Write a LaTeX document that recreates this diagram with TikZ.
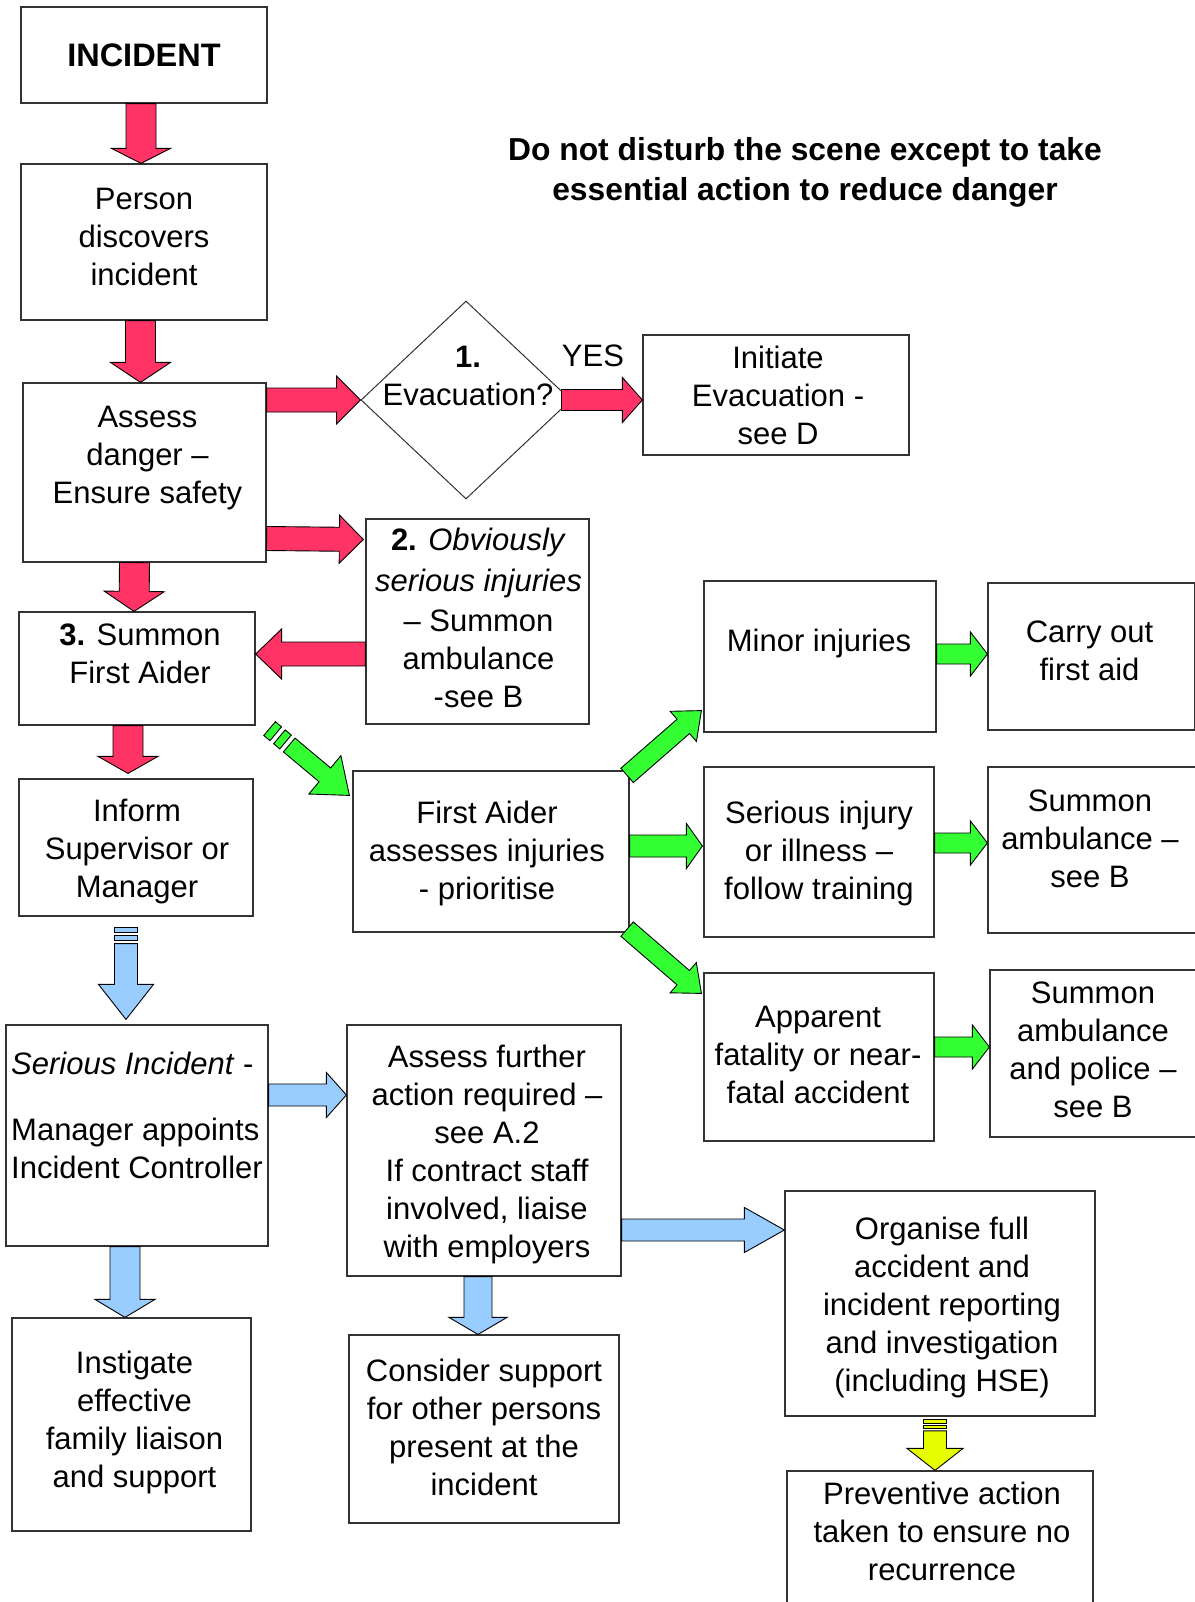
\documentclass[tikz,border=0pt]{standalone}
\usepackage{fontspec}
\setmainfont{Liberation Sans}
\usetikzlibrary{calc,shapes.geometric}

\definecolor{arrred}{HTML}{FF3366}
\definecolor{arrgreen}{HTML}{33FF33}
\definecolor{arrblue}{HTML}{99CCFF}
\definecolor{arryellow}{HTML}{E6FF00}

\tikzset{
  box/.style={draw=black!80, line width=1.2pt, inner sep=0pt},
  txt/.style={align=center, inner sep=0pt, font=\fontsize{31}{38}\selectfont},
  arrowline/.style={draw=black, line width=0.9pt, line join=miter},
  redarr/.style={arrowline, fill=arrred},
  greenarr/.style={arrowline, fill=arrgreen},
  bluearr/.style={arrowline, fill=arrblue},
  yellowarr/.style={arrowline, fill=arryellow}
}

% block arrow: [style]{tail}{tip}{shaft half width}{head half width}{head length}
\newcommand{\blockarrow}[6][redarr]{%
  \coordinate (bt) at #2;
  \coordinate (be) at #3;
  \coordinate (bh) at ($(be)!#6pt!(bt)$);
  \filldraw[#1] ($(bt)!#4pt!90:(be)$) -- ($(bh)!#4pt!90:(be)$) -- ($(bh)!#5pt!90:(be)$)
    -- (be) -- ($(bh)!#5pt!-90:(be)$) -- ($(bh)!#4pt!-90:(be)$) -- ($(bt)!#4pt!-90:(be)$) -- cycle;
}
% same, with two bars at the tail: last argument is the bar thickness
\newcommand{\stripedarrow}[7][bluearr]{%
  \coordinate (st) at #2;
  \coordinate (se) at #3;
  \pgfmathsetmacro\barb{1.6*#7}
  \pgfmathsetmacro\barc{2.6*#7}
  \pgfmathsetmacro\bard{3.2*#7}
  \coordinate (sa) at ($(st)!#7pt!(se)$);
  \coordinate (sb) at ($(st)!\barb pt!(se)$);
  \coordinate (sc) at ($(st)!\barc pt!(se)$);
  \coordinate (sd) at ($(st)!\bard pt!(se)$);
  \filldraw[#1] ($(st)!#4pt!90:(se)$) -- ($(sa)!#4pt!90:(se)$) -- ($(sa)!#4pt!-90:(se)$) -- ($(st)!#4pt!-90:(se)$) -- cycle;
  \filldraw[#1] ($(sb)!#4pt!90:(se)$) -- ($(sc)!#4pt!90:(se)$) -- ($(sc)!#4pt!-90:(se)$) -- ($(sb)!#4pt!-90:(se)$) -- cycle;
  \blockarrow[#1]{(sd)}{(se)}{#4}{#5}{#6}
}

\begin{document}
\begin{tikzpicture}[x=1pt, y=-1pt]
\useasboundingbox (0,0) rectangle (1194,1602);

% Header
\node[txt, font=\fontsize{31.8}{40}\selectfont\bfseries] (header) at (805,172)
  {Do not disturb the scene except to take\\essential action to reduce danger};

% Left column
\node[box, minimum width=246pt, minimum height=96pt] (incident) at (144,55) {};
\node[txt, font=\fontsize{32.5}{38}\selectfont\bfseries] (incidenttext) at (incident) {INCIDENT};
\node[box, minimum width=246pt, minimum height=156pt] (person) at (144,242) {};
\node[txt] (persontext) at ($(person)+(0,-5)$) {Person\\discovers\\incident};
\node[box, minimum width=243pt, minimum height=179pt] (assess) at (144.5,472.5) {};
\node[txt] (assesstext) at ($(assess)+(3,-14)$) {Assess\\danger --\\Ensure safety};
\node[box, minimum width=236pt, minimum height=113pt] (firstaider) at (137,668.5) {};
\node[txt] (firstaidertext) at ($(firstaider)+(3,-15)$) {\textbf{3.} Summon\\First Aider};
\node[box, minimum width=234pt, minimum height=137pt] (inform) at (136,847.5) {};
\node[txt] (informtext) at ($(inform)+(1,4)$) {Inform\\Supervisor or\\Manager};
\node[box, minimum width=262pt, minimum height=221pt] (serinc) at (137,1135.5) {};
\node[txt, anchor=north west, align=left] (serinctext) at (11,1052)
  {\textit{Serious Incident} -\\[28pt]Manager appoints\\Incident Controller};
\node[box, minimum width=239pt, minimum height=213pt] (instigate) at (131.5,1424.5) {};
\node[txt] (instigatetext) at ($(instigate)+(3,-2)$) {Instigate\\effective\\family liaison\\and support};

% Evacuation decision
\node[draw=black!80, line width=1pt, diamond, minimum width=210pt, minimum height=198pt, inner sep=0pt] (evac) at (466,400) {};
\node[txt] (evactext) at (468,376) {\textbf{1.}\\Evacuation?};
\node[txt] (yes) at (593,356) {YES};
\node[box, minimum width=266pt, minimum height=120pt] (initiate) at (776,395) {};
\node[txt] (initiatetext) at ($(initiate)+(2,0)$) {Initiate\\Evacuation -\\see D};

% Middle column
\node[box, minimum width=223pt, minimum height=205pt] (obvious) at (477.5,621.5) {};
\node[txt] (obvioustext) at ($(obvious)+(1,-4)$)
  {\textbf{2.} \textit{Obviously}\\[3pt]\textit{serious injuries}\\[2pt]-- Summon\\ambulance\\-see B};
\node[box, minimum width=276pt, minimum height=161pt] (assesses) at (491,851.5) {};
\node[txt] (assessestext) at ($(assesses)+(-4,2)$) {First Aider\\assesses injuries\\- prioritise};
\node[box, minimum width=274pt, minimum height=251pt] (further) at (484,1150.5) {};
\node[txt] (furthertext) at ($(further)+(3,4)$)
  {Assess further\\action required --\\see A.2\\If contract staff\\involved, liaise\\with employers};
\node[box, minimum width=270pt, minimum height=188pt] (consider) at (484,1429) {};
\node[txt] (considertext) at ($(consider)+(0,-2)$) {Consider support\\for other persons\\present at the\\incident};

% Injury types
\node[box, minimum width=232pt, minimum height=151pt] (minor) at (820,656.5) {};
\node[txt] (minortext) at ($(minor)+(-1,-13)$) {Minor injuries};
\node[box, minimum width=230pt, minimum height=170pt] (serious) at (819,852) {};
\node[txt] (serioustext) at ($(serious)+(0,1)$) {Serious injury\\or illness --\\follow training};
\node[box, minimum width=230pt, minimum height=168pt] (fatal) at (819,1057) {};
\node[txt] (fataltext) at ($(fatal)+(-1,-2)$) {Apparent\\fatality or near-\\fatal accident};
\node[box, minimum width=207pt, minimum height=147pt] (carry) at (1091.5,656.5) {};
\node[txt] (carrytext) at ($(carry)+(-2,-6)$) {Carry out\\first aid};
\node[box, minimum width=208pt, minimum height=166pt] (ambul) at (1092,850) {};
\node[txt] (ambultext) at ($(ambul)+(-2,-11)$) {Summon\\ambulance --\\see B};
\node[box, minimum width=206pt, minimum height=167pt] (police) at (1093,1053.5) {};
\node[txt] (policetext) at ($(police)+(0,-4)$) {Summon\\ambulance\\and police --\\see B};

% Reporting
\node[box, minimum width=310pt, minimum height=225pt] (organise) at (940,1303.5) {};
\node[txt] (organisetext) at ($(organise)+(2,4)$)
  {Organise full\\accident and\\incident reporting\\and investigation\\(including HSE)};
\node[box, minimum width=306pt, minimum height=140pt] (prevent) at (940,1541) {};
\node[txt] (preventtext) at (942,1531) {Preventive action\\taken to ensure no\\recurrence};

% Red arrows
\blockarrow[redarr]{($(incident.south)+(-3,0)$)}{($(person.north)+(-3,0)$)}{15}{29.5}{15}
\blockarrow[redarr]{($(person.south)+(-3.5,0)$)}{($(assess.north)+(-4,0)$)}{15}{30}{20}
\blockarrow[redarr]{(assess.east |- evac.west)}{(evac.west)}{12}{24}{24}
\blockarrow[redarr]{($(evac.east)+(-10,0)$)}{(evac.east -| initiate.west)}{10.5}{22.5}{20}
\blockarrow[redarr]{($(assess.east)+(0,66)$)}{($(obvious.west)+(-2,-82)$)}{12}{24}{24}
\blockarrow[redarr]{($(assess.south)+(-10,0)$)}{($(firstaider.north)+(-3,0)$)}{15}{30}{20}
\blockarrow[redarr]{($(obvious.west)+(0,32.5)$)}{($(firstaider.east)+(0,-14.5)$)}{12}{25}{26}
\blockarrow[redarr]{($(firstaider.south)+(-9,0)$)}{($(inform.north)+(-8,-5)$)}{15}{30}{17}

% Green arrows
\stripedarrow[greenarr]{($(firstaider.south east)+(14,3)$)}{($(assesses.north west)+(-3,25)$)}{9}{25}{32}{8}
\blockarrow[greenarr]{($(assesses.north east)+(-2.5,5)$)}{($(minor.south west)+(-2,-22)$)}{9.5}{20}{24}
\blockarrow[greenarr]{($(assesses.east)+(0,-5.5)$)}{($(serious.west)+(-1,-6)$)}{11}{22.5}{16}
\blockarrow[greenarr]{($(assesses.south east)+(-2.5,-3.5)$)}{($(fatal.north west)+(-2,21)$)}{9.5}{20}{24}
\blockarrow[greenarr]{($(minor.east)+(0,-2.5)$)}{($(carry.west)+(0,-2.5)$)}{10}{22}{17}
\blockarrow[greenarr]{($(serious.east)+(0,-9)$)}{($(ambul.west)+(0,-7)$)}{10}{22}{17}
\blockarrow[greenarr]{($(fatal.east)+(0,-10)$)}{($(police.west)+(0,-6.5)$)}{10}{22}{17}

% Blue arrows
\stripedarrow[bluearr]{($(inform.south)+(-10,11)$)}{($(serinc.north)+(-11,-5)$)}{11.5}{27.5}{35}{5}
\blockarrow[bluearr]{($(serinc.east)+(0,-40.5)$)}{($(further.west)+(0,-55.5)$)}{11}{22.5}{20}
\blockarrow[bluearr]{($(serinc.south)+(-12,0)$)}{($(instigate.north)+(-6.5,0)$)}{15}{30}{18}
\blockarrow[bluearr]{($(further.south)+(-6,0)$)}{($(consider.north)+(-6,0)$)}{14}{29}{17}
\blockarrow[bluearr]{($(further.east)+(0,79.5)$)}{($(organise.west)+(0,-73.5)$)}{11}{22.5}{40}

% Yellow arrow
\stripedarrow[yellowarr]{($(organise.south)+(-5,3)$)}{($(prevent.north)+(-5,0)$)}{11.5}{28}{22}{3.5}
\end{tikzpicture}
\end{document}
